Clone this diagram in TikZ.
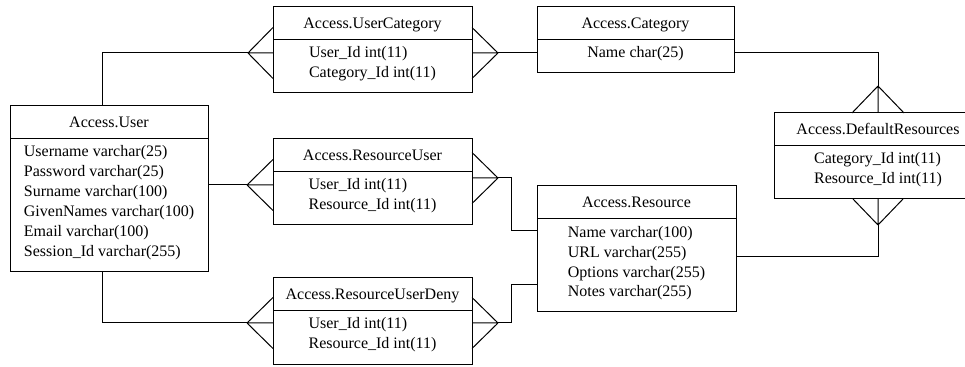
\documentclass[tikz,border=0pt]{standalone}
\usepackage{fontspec}
\setmainfont{Liberation Serif}
\usepackage{tikz}
\usetikzlibrary{positioning,calc}

\newcommand{\rowtop}{\rule{0pt}{13.5pt}}
\newcommand{\rowend}{\rule[-11.25pt]{0pt}{0pt}}

\begin{document}
\begin{tikzpicture}[x=0.75pt, y=-0.75pt, line width=0.75pt,
    every node/.style={font=\fontsize{12pt}{15pt}\selectfont},
    head/.style={draw, rectangle, inner sep=0pt, outer sep=0pt, anchor=north west,
      minimum width=#1, minimum height=24.75pt, text height=8pt, text depth=0pt},
    fields/.style={draw, rectangle, inner sep=0pt, outer sep=0pt, align=left, minimum width=#1}]
    \useasboundingbox (0,0) rectangle (965,367);
    % Tables
    \node [head=148.5pt] (userh) at (10,106) {Access.User};
    \node [fields=148.5pt, below=0pt of userh] (userb) {\rowtop Username varchar(25)\\ Password varchar(25)\\ Surname varchar(100)\\ GivenNames varchar(100)\\ Email varchar(100)\\ Session\_Id varchar(255)\rowend};

    \node [head=149.25pt] (ucath) at (273,7) {Access.UserCategory};
    \node [fields=149.25pt, below=0pt of ucath] (ucatb) {\rowtop User\_Id int(11)\\ Category\_Id int(11)\rowend};

    \node [head=147.75pt] (cath) at (537,7) {Access.Category};
    \node [fields=147.75pt, below=0pt of cath] (catb) {\rowtop Name char(25)\rowend};

    \node [head=156pt] (drh) at (774,113) {Access.DefaultResources};
    \node [fields=156pt, below=0pt of drh] (drb) {\rowtop Category\_Id int(11)\\ Resource\_Id int(11)\rowend};

    \node [head=149.25pt] (ruh) at (273,139) {Access.ResourceUser};
    \node [fields=149.25pt, below=0pt of ruh] (rub) {\rowtop User\_Id int(11)\\ Resource\_Id int(11)\rowend};

    \node [head=149.25pt] (rdh) at (273,278) {Access.ResourceUserDeny};
    \node [fields=149.25pt, below=0pt of rdh] (rdb) {\rowtop User\_Id int(11)\\ Resource\_Id int(11)\rowend};

    \node [head=149.25pt] (resh) at (537,186) {Access.Resource};
    \node [fields=149.25pt, below=0pt of resh] (resb) {\rowtop Name varchar(100)\\ URL varchar(255)\\ Options varchar(255)\\ Notes varchar(255)\rowend};

    % Crow's feet ends
    \coordinate (ucl) at ($(ucath.south west)+(-25,13)$);
    \coordinate (ucr) at ($(ucath.south east)+(26,13)$);
    \coordinate (drin) at ($(drh.north)+(0,-27)$);
    \coordinate (drout) at ($(drb.south)+(0,26)$);
    \coordinate (rul) at ($(ruh.south west)+(-26,13)$);
    \coordinate (rur) at ($(ruh.south east)+(26,6)$);
    \coordinate (rdl) at ($(rdh.south west)+(-26,12)$);
    \coordinate (rdr) at ($(rdh.south east)+(26,12)$);

    \draw (ucl) -- ++(25,-25.5) (ucl) -- ++(25,0) (ucl) -- ++(25,25.5);
    \draw (ucr) -- ++(-26,-25.5) (ucr) -- ++(-26,0) (ucr) -- ++(-26,25.5);
    \draw (drin) -- ++(-26,27) (drin) -- ++(0,27) (drin) -- ++(26,27);
    \draw (drout) -- ++(-25,-26) (drout) -- ++(0,-26) (drout) -- ++(25,-26);
    \draw (rul) -- ++(26,-25.5) (rul) -- ++(26,0) (rul) -- ++(26,25.5);
    \draw (rur) -- ++(-26,-25.5) (rur) -- ++(-26,0) (rur) -- ++(-26,25.5);
    \draw (rdl) -- ++(26,-25.5) (rdl) -- ++(26,0) (rdl) -- ++(26,25.5);
    \draw (rdr) -- ++(-26,-25.5) (rdr) -- ++(-26,0) (rdr) -- ++(-26,25.5);

    % Links
    \draw ($(userh.north west)+(92,0)$) |- (ucl);
    \draw (ucr) -- (ucr -| catb.west);
    \draw ($(cath.south east)+(0,13)$) -| (drin);
    \draw (drout) |- ($(resb.north east)+(0,38)$);
    \draw (userb.east |- rul) -- (rul);
    \draw (rur) -- ++(13,0) |- ($(resb.north west)+(0,12)$);
    \draw ($(userb.south west)+(92,0)$) |- (rdl);
    \draw (rdr) -- ++(13,0) |- ($(resb.south west)+(0,-27)$);
\end{tikzpicture}
\end{document}
